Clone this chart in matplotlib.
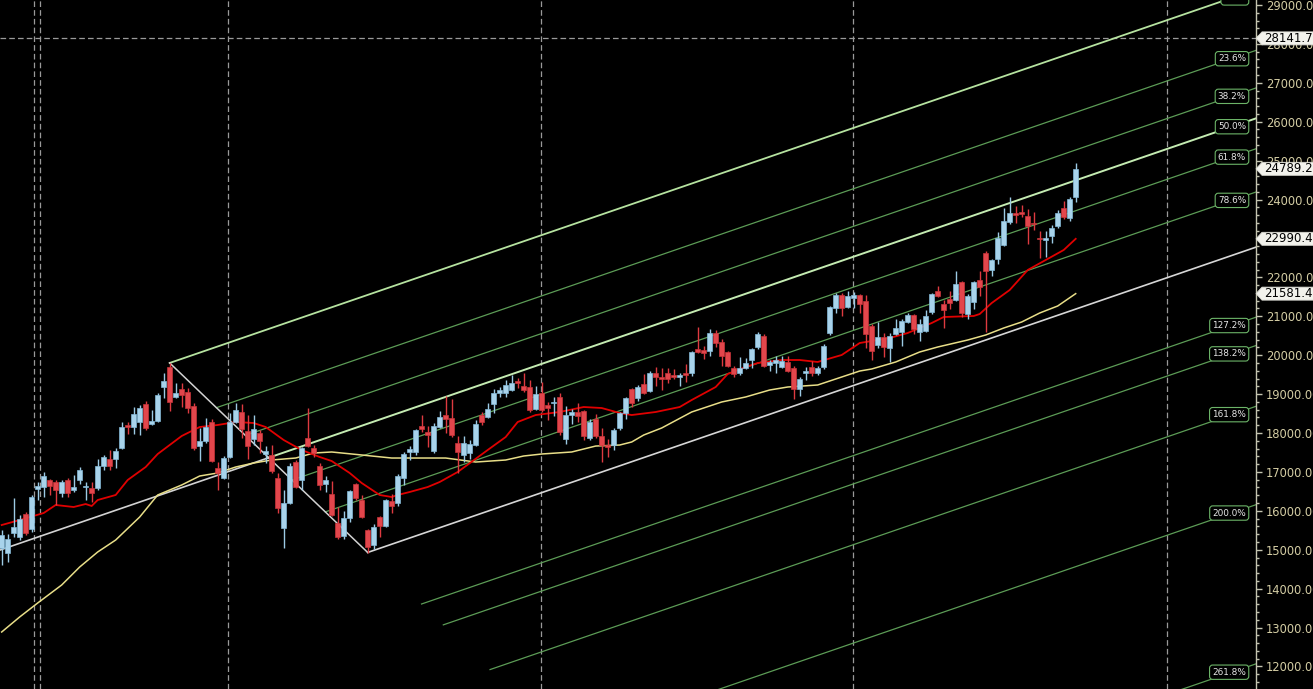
import numpy as np
import matplotlib
matplotlib.use("Agg")
import matplotlib.pyplot as plt
import matplotlib.transforms as mtransforms
from matplotlib.patches import Polygon
from matplotlib.ticker import MultipleLocator, FormatStrFormatter

# weekly candles (bar 0 = leftmost)
opens = [15044, 14916, 15430, 15327, 15919, 15533, 16561, 16612, 16792, 16741,
         16458, 16792, 16535, 16792, 16612, 16587, 16587, 17152, 17332, 17332,
         17614, 18206, 18154, 18283, 18745, 18231, 18308, 19182, 19696, 18926,
         19131, 19054, 18694, 17665, 17794, 18283, 17100, 16844, 17383, 18283,
         18540, 18051, 17845, 18000, 17460, 17435, 16844, 15558, 16201, 17254,
         16792, 17871, 17614, 17152, 16690, 16433, 15687, 15353, 15816, 16690,
         16278, 15507, 15122, 15841, 15610, 16253, 16201, 16844, 17512, 17512,
         18180, 18026, 17537, 18154, 18462, 18385, 17743, 17435, 17486, 17691,
         18462, 18411, 18745, 19028, 19028, 19105, 19336, 19208, 19182, 18617,
         19028, 18720, 18771, 18926, 17845, 18462, 18540, 18565, 17871, 18360,
         17923, 17691, 17691, 18129, 18514, 19131, 18900, 19259, 19079, 19542,
         19439, 19542, 19490, 19439, 19542, 19542, 20159, 20133, 20108, 20570,
         20339, 20082, 19670, 19542, 19670, 19876, 20210, 20493, 19748, 19799,
         19696, 19825, 19670, 19131, 19542, 19696, 19542, 19696, 20570, 21212,
         21546, 21238, 21469, 21546, 21392, 20750, 20262, 20467, 20185, 20544,
         20596, 20853, 21033, 20596, 20621, 21110, 21649, 21315, 21443, 21418,
         21880, 21058, 21366, 21932, 22626, 22189, 22472, 22831, 23423, 23654,
         23680, 23577, 23397, 23011, 22960, 23063, 23320, 23782, 23525, 24065]
highs = [15507, 15404, 16329, 15893, 15970, 16407, 16741, 16998, 16818, 16792,
         16792, 16844, 16921, 17126, 16741, 16741, 17332, 17435, 17563, 17614,
         18283, 18283, 18668, 18720, 18823, 18591, 19028, 19542, 19799, 19285,
         19285, 19156, 18771, 18129, 18385, 18360, 17254, 17409, 18514, 18771,
         18745, 18462, 18462, 18077, 17665, 17691, 16972, 16535, 17229, 17306,
         17640, 18642, 17691, 17229, 16895, 16767, 16098, 15996, 16535, 16715,
         16407, 15533, 15661, 15867, 16304, 16433, 16947, 17512, 17665, 18103,
         18462, 18180, 18257, 18565, 18951, 18874, 17923, 17923, 17820, 18334,
         18540, 18771, 19131, 19182, 19362, 19490, 19414, 19542, 19362, 19208,
         19311, 18797, 18926, 19028, 18694, 18617, 18771, 18591, 18360, 18488,
         18129, 17845, 18129, 18540, 18926, 19156, 19234, 19516, 19593, 19696,
         19670, 19670, 19645, 19542, 19773, 20108, 20724, 20236, 20673, 20647,
         20416, 20108, 19722, 19953, 19927, 20185, 20596, 20544, 19876, 19979,
         19979, 19979, 19722, 19439, 19696, 19850, 19722, 20287, 21264, 21597,
         21597, 21649, 21623, 21572, 21546, 20801, 20853, 20570, 20570, 20930,
         20930, 21084, 21058, 20930, 21161, 21597, 21777, 21418, 21649, 22163,
         21906, 21572, 21906, 22163, 22677, 22472, 23165, 23782, 24065, 23834,
         23860, 23757, 23680, 23191, 23191, 23345, 23731, 23962, 24065, 24939]
lows = [14608, 14685, 15327, 15250, 15378, 15456, 16278, 16355, 16407, 16150,
        16355, 16355, 16484, 16690, 16278, 16227, 16535, 17049, 17049, 17100,
        17589, 17974, 17974, 17948, 18077, 18206, 18283, 18900, 18565, 18900,
        18668, 18514, 17563, 17280, 17743, 17254, 16535, 16818, 17357, 18257,
        17871, 17332, 17691, 17486, 17229, 16972, 15944, 15044, 16175, 16587,
        16535, 17640, 17383, 16535, 16484, 15867, 15276, 15276, 15713, 16278,
        15816, 14916, 15019, 15327, 15584, 15944, 16124, 16664, 17306, 17435,
        18026, 17640, 17486, 18129, 18000, 17897, 16972, 17254, 17332, 17665,
        18206, 18385, 18514, 18926, 18926, 19079, 19156, 19054, 18540, 18591,
        18540, 18334, 18437, 17948, 17717, 18231, 18283, 17820, 17820, 17871,
        17254, 17383, 17563, 18077, 18360, 18668, 18823, 19002, 19054, 19208,
        19105, 19285, 19388, 19208, 19311, 19465, 20056, 19902, 19979, 20210,
        19722, 19696, 19439, 19490, 19645, 19670, 20159, 19696, 19593, 19542,
        19670, 19568, 18874, 18951, 19362, 19465, 19490, 19645, 20519, 21084,
        21007, 21212, 21212, 21084, 20185, 19876, 20185, 19953, 19825, 20519,
        20236, 20827, 20544, 20365, 20596, 21058, 21495, 20698, 21187, 21392,
        20981, 20930, 21187, 21521, 20596, 22035, 22343, 22806, 23371, 23397,
        23551, 22857, 23217, 22497, 22523, 22883, 23268, 23500, 23448, 23937]
closes = [15378, 15276, 15584, 15790, 15430, 16355, 16638, 16895, 16638, 16535,
          16741, 16458, 16612, 17049, 16638, 16458, 17152, 17383, 17152, 17537,
          18154, 18154, 18488, 18642, 18129, 18308, 18977, 19336, 18797, 19028,
          18977, 18642, 17614, 17794, 18154, 17280, 16972, 17357, 18283, 18591,
          18103, 17665, 18103, 17794, 17537, 17023, 16072, 16201, 17152, 16612,
          17614, 17665, 17486, 16664, 16792, 15893, 15327, 15816, 16510, 16330,
          15841, 15070, 15584, 15610, 16278, 16124, 16895, 17460, 17589, 18077,
          18103, 17948, 18180, 18411, 18360, 17948, 17512, 17743, 17717, 18231,
          18283, 18617, 19028, 19105, 19234, 19285, 19285, 19105, 18591, 19002,
          18591, 18642, 18797, 18026, 18462, 18540, 18437, 17923, 18283, 17923,
          17691, 17640, 18077, 18514, 18900, 18771, 19182, 19028, 19542, 19439,
          19388, 19388, 19439, 19490, 19490, 20082, 20082, 20056, 20570, 20313,
          19979, 19722, 19516, 19670, 19799, 20159, 20544, 19722, 19825, 19876,
          19850, 19593, 19131, 19388, 19593, 19542, 19670, 20236, 21238, 21546,
          21212, 21521, 21546, 21315, 20544, 20108, 20467, 20210, 20493, 20698,
          20879, 21033, 20673, 20801, 21007, 21572, 21521, 21161, 21341, 21829,
          21084, 21521, 21880, 21752, 22163, 22446, 23011, 23448, 23654, 23603,
          23628, 23320, 23371, 22985, 23011, 23268, 23654, 23551, 24014, 24789.20]

# moving averages, sampled at bar indexes
red_ma_idx = [0, 3, 7, 9, 12, 14, 15, 16, 19, 21, 24, 26, 30, 33, 36, 39, 42, 44,
              47, 50, 53, 55, 58, 60, 63, 65, 66, 68, 71, 73, 76, 81, 84, 86, 89,
              93, 97, 100, 103, 105, 109, 113, 115, 119, 121, 124, 126, 130, 133,
              136, 140, 143, 148, 151, 155, 157, 162, 163, 165, 168, 171, 174, 177, 179]
red_ma_val = [15635, 15764, 15944, 16150, 16098, 16175, 16124, 16278, 16407, 16792,
              17126, 17460, 17923, 18154, 18206, 18283, 18257, 18154, 17820, 17563,
              17383, 17280, 16972, 16715, 16407, 16355, 16407, 16484, 16612, 16741,
              16998, 17563, 17897, 18283, 18462, 18540, 18668, 18642, 18514, 18462,
              18540, 18668, 18848, 19182, 19516, 19696, 19799, 19876, 19876, 19825,
              20005, 20313, 20441, 20570, 20827, 20981, 21007, 21058, 21341, 21675,
              22189, 22446, 22703, 22990.48]
yellow_ma_idx = [0, 3, 6, 10, 13, 16, 19, 23, 26, 30, 33, 36, 39, 42, 45, 49, 52,
                 55, 60, 65, 70, 74, 79, 84, 87, 90, 95, 99, 103, 105, 107, 110,
                 115, 120, 124, 128, 131, 136, 140, 143, 145, 149, 153, 156, 161,
                 164, 167, 170, 173, 176, 179]
yellow_ma_val = [12886, 13272, 13631, 14094, 14556, 14942, 15250, 15841, 16407, 16664,
                 16895, 16972, 17126, 17229, 17306, 17357, 17486, 17512, 17435, 17357,
                 17357, 17357, 17254, 17306, 17409, 17460, 17512, 17665, 17691, 17769,
                 17948, 18129, 18540, 18797, 18926, 19105, 19182, 19234, 19439, 19593,
                 19645, 19825, 20082, 20210, 20390, 20519, 20698, 20853, 21084, 21264,
                 21581.48]

# fibonacci channel: top anchor, bottom anchor (bar, price), slope in price per bar
fib_top = (28, 19800)
fib_bottom = (61, 14930)
fib_slope = 53.0
fib_levels = [0.0, 0.236, 0.382, 0.5, 0.618, 0.786, 1.0, 1.272, 1.382, 1.618, 2.0, 2.618]
fib_names = ["0.0%", "23.6%", "38.2%", "50.0%", "61.8%", "78.6%", "",
             "127.2%", "138.2%", "161.8%", "200.0%", "261.8%"]

period_lines = [5.4, 6.4, 37.7, 89.9, 141.9, 194.2]
price_line = 28141.72
price_tags = [28141.72, 24789.20, 22990.48, 21581.48]

XMIN, XMAX = -0.28, 209.05
YMIN, YMAX = 11421, 29128

fig = plt.figure(figsize=(13.13, 6.89), dpi=100, facecolor="black")
ax = fig.add_axes([0, 0, 1256 / 1313, 1])
ax.set_facecolor("black")

# grid-ish separators
for xv in period_lines:
    ax.axvline(xv, color="#9a9a9a", lw=0.9, ls=(0, (4.5, 2.5)), zorder=1)
ax.axhline(price_line, color="#9a9a9a", lw=0.9, ls=(0, (4.5, 2.5)), zorder=1)

# fibonacci channel
tx, ty = fib_top
bx, by = fib_bottom
for k, name in zip(fib_levels, fib_names):
    sx = tx + k * (bx - tx)
    sy = ty + k * (by - ty)
    ex = XMAX + 5
    ey = sy + fib_slope * (ex - sx)
    if k == 0.0:
        col, lw = "#b6e3a0", 1.3
    elif k == 0.5:
        col, lw = "#c4ebb2", 1.4
    elif k == 1.0:
        col, lw = "#d6d6d6", 1.2
    else:
        col, lw = "#5c9c56", 0.9
    ax.plot([sx, ex], [sy, ey], color=col, lw=lw, zorder=2)
    if k == 0.5:
        # trend line continuing the 50% level to the left edge
        ax.plot([XMIN - 1, sx], [sy - fib_slope * (sx - XMIN + 1), sy],
                color="#d2d2d2", lw=1.2, zorder=2)
    if name:
        lx = 205.0
        ax.text(207.4, sy + fib_slope * (lx - sx), name, ha="right", va="center",
                fontsize=6.4, color="#e6e6e6", zorder=6, clip_on=True,
                bbox=dict(boxstyle="round,pad=0.3,rounding_size=0.35",
                          fc="black", ec="#6cb468", lw=0.8))
ax.plot([tx, bx], [ty, by], color="#d2d2d2", lw=1.1, zorder=2)

# moving averages
ax.plot(yellow_ma_idx, yellow_ma_val, color="#e8de88", lw=1.1, zorder=3)
ax.plot(red_ma_idx, red_ma_val, color="#e00000", lw=1.3, zorder=3)

# candles
o = np.array(opens, float)
h = np.array(highs, float)
l = np.array(lows, float)
c = np.array(closes, float)
x = np.arange(len(c))
up = c >= o
dn = ~up
ax.vlines(x[up], l[up], h[up], color="#9ccae4", lw=1, zorder=4)
ax.vlines(x[dn], l[dn], h[dn], color="#de3a40", lw=1, zorder=4)
ax.bar(x[up], np.maximum(c[up] - o[up], 25), bottom=o[up], width=0.74,
       color="#a8d3eb", edgecolor="#84bad9", lw=0.5, zorder=5)
ax.bar(x[dn], np.maximum(o[dn] - c[dn], 25), bottom=c[dn], width=0.74,
       color="#e2464c", edgecolor="#c9343a", lw=0.5, zorder=5)

ax.set_xlim(XMIN, XMAX)
ax.set_ylim(YMIN, YMAX)

# right price axis
for s in ("top", "left", "bottom"):
    ax.spines[s].set_visible(False)
ax.spines["right"].set_color("#c4c4b0")
ax.spines["right"].set_linewidth(1)
ax.xaxis.set_visible(False)
ax.yaxis.tick_right()
ax.yaxis.set_major_locator(MultipleLocator(1000))
ax.yaxis.set_minor_locator(MultipleLocator(200))
ax.yaxis.set_major_formatter(FormatStrFormatter("%.2f"))
ax.tick_params(axis="y", which="major", length=4, width=1, color="#c4c4b0",
               labelcolor="#d4cda4", labelsize=8.3, pad=3)
ax.tick_params(axis="y", which="minor", length=2.5, width=1, color="#c4c4b0")

# price tags on the axis
trans = mtransforms.blended_transform_factory(ax.transAxes, ax.transData)
hh = 6.5 * 25.7
for p in price_tags:
    pts = [(1.0, p), (1 + 6 / 1256, p + hh), (1 + 90 / 1256, p + hh),
           (1 + 90 / 1256, p - hh), (1 + 6 / 1256, p - hh)]
    ax.add_patch(Polygon(pts, closed=True, transform=trans, fc="#f2f2ec",
                         ec="#d8d8d0", lw=0.6, clip_on=False, zorder=10))
    ax.text(1 + 8 / 1256, p, f"{p:.2f}", transform=trans, ha="left", va="center",
            fontsize=8.5, color="black", clip_on=False, zorder=11)

fig.savefig("out.png", dpi=100, facecolor="black")
